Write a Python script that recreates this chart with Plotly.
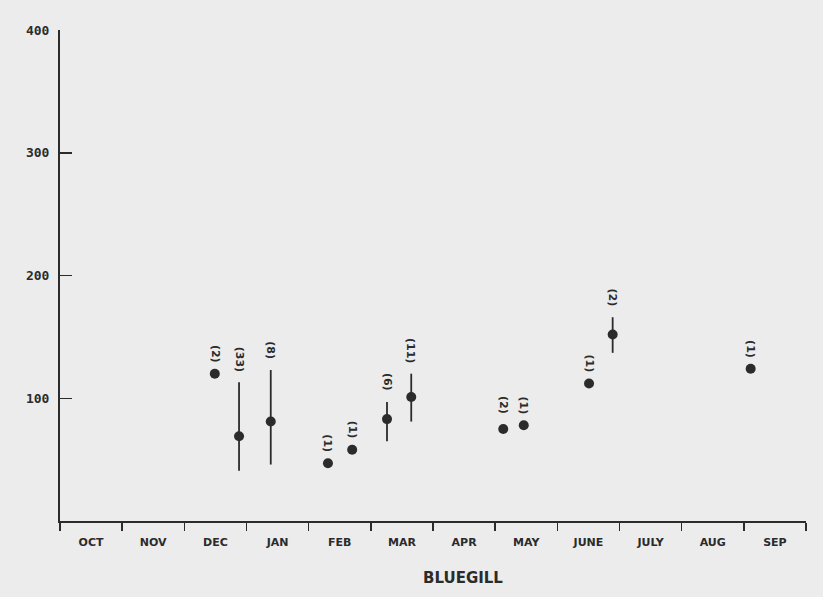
import plotly.graph_objects as go

# Month categories (Oct .. Sep), each month is one unit on the x axis
months = ["OCT", "NOV", "DEC", "JAN", "FEB", "MAR", "APR", "MAY", "JUNE", "JULY", "AUG", "SEP"]

# Sample positions (in month units from start of OCT), mean values, ranges and sample counts
x_pos = [2.49, 2.88, 3.39, 4.31, 4.70, 5.26, 5.65, 7.13, 7.46, 8.51, 8.89, 11.11]
mean_vals = [120, 69, 81, 47, 58, 83, 101, 75, 78, 112, 152, 124]
upper_vals = [120, 113, 123, 47, 58, 97, 120, 78, 78, 112, 166, 124]
lower_vals = [120, 41, 46, 47, 58, 65, 81, 72, 78, 112, 137, 124]
n_labels = ["(2)", "(33)", "(8)", "(1)", "(1)", "(6)", "(11)", "(2)", "(1)", "(1)", "(2)", "(1)"]

y_ticks = [100, 200, 300, 400]
species = "BLUEGILL"

ink = "#2b2b2b"
bg = "#ececec"

err_plus = [u - m for u, m in zip(upper_vals, mean_vals)]
err_minus = [m - l for m, l in zip(mean_vals, lower_vals)]

fig = go.Figure()
fig.add_trace(go.Scatter(
    x=x_pos, y=mean_vals, mode="markers",
    marker=dict(size=10, color=ink),
    error_y=dict(type="data", symmetric=False, array=err_plus, arrayminus=err_minus,
                 color=ink, thickness=1.8, width=0),
    showlegend=False, hoverinfo="skip",
))

for xp, top, lab in zip(x_pos, upper_vals, n_labels):
    fig.add_annotation(
        x=xp, y=top, text=lab, showarrow=False, textangle=90,
        yanchor="bottom", xanchor="center", yshift=9,
        font=dict(family="DejaVu Sans", size=11, color=ink, weight="bold"),
    )

fig.add_annotation(
    x=0.54, y=0, xref="paper", yref="paper", text=species, showarrow=False,
    xanchor="center", yanchor="middle", yshift=-57,
    font=dict(family="DejaVu Sans", size=15, color=ink, weight="bold"),
)

fig.update_layout(
    width=823, height=597,
    margin=dict(l=60, r=17, t=30, b=76),
    paper_bgcolor=bg, plot_bgcolor=bg,
    font=dict(family="DejaVu Sans", color=ink),
    xaxis=dict(
        range=[0, 12], showgrid=False, zeroline=False,
        tickvals=[i + 0.5 for i in range(len(months))], ticktext=months,
        ticks="", ticklen=0, ticklabelstandoff=10,
        tickfont=dict(family="DejaVu Sans", size=11, color=ink, weight="bold"),
        showline=True, linecolor=ink, linewidth=2,
        minor=dict(tick0=0, dtick=1, ticks="outside", ticklen=8, tickcolor=ink, tickwidth=1.5, showgrid=False),
        fixedrange=True,
    ),
    yaxis=dict(
        range=[0, 400], showgrid=False, zeroline=False,
        tickvals=y_ticks, ticktext=[str(v) for v in y_ticks],
        ticks="inside", ticklen=12, tickwidth=1.5, tickcolor=ink, ticklabelstandoff=6,
        tickfont=dict(family="DejaVu Sans Mono", size=13, color=ink, weight="bold"),
        showline=True, linecolor=ink, linewidth=2,
        fixedrange=True,
    ),
)

fig.write_html(
    "out.html",
    config={"displayModeBar": False, "staticPlot": True},
    post_script="document.body.style.margin='0';document.body.style.background='%s';" % bg,
)
